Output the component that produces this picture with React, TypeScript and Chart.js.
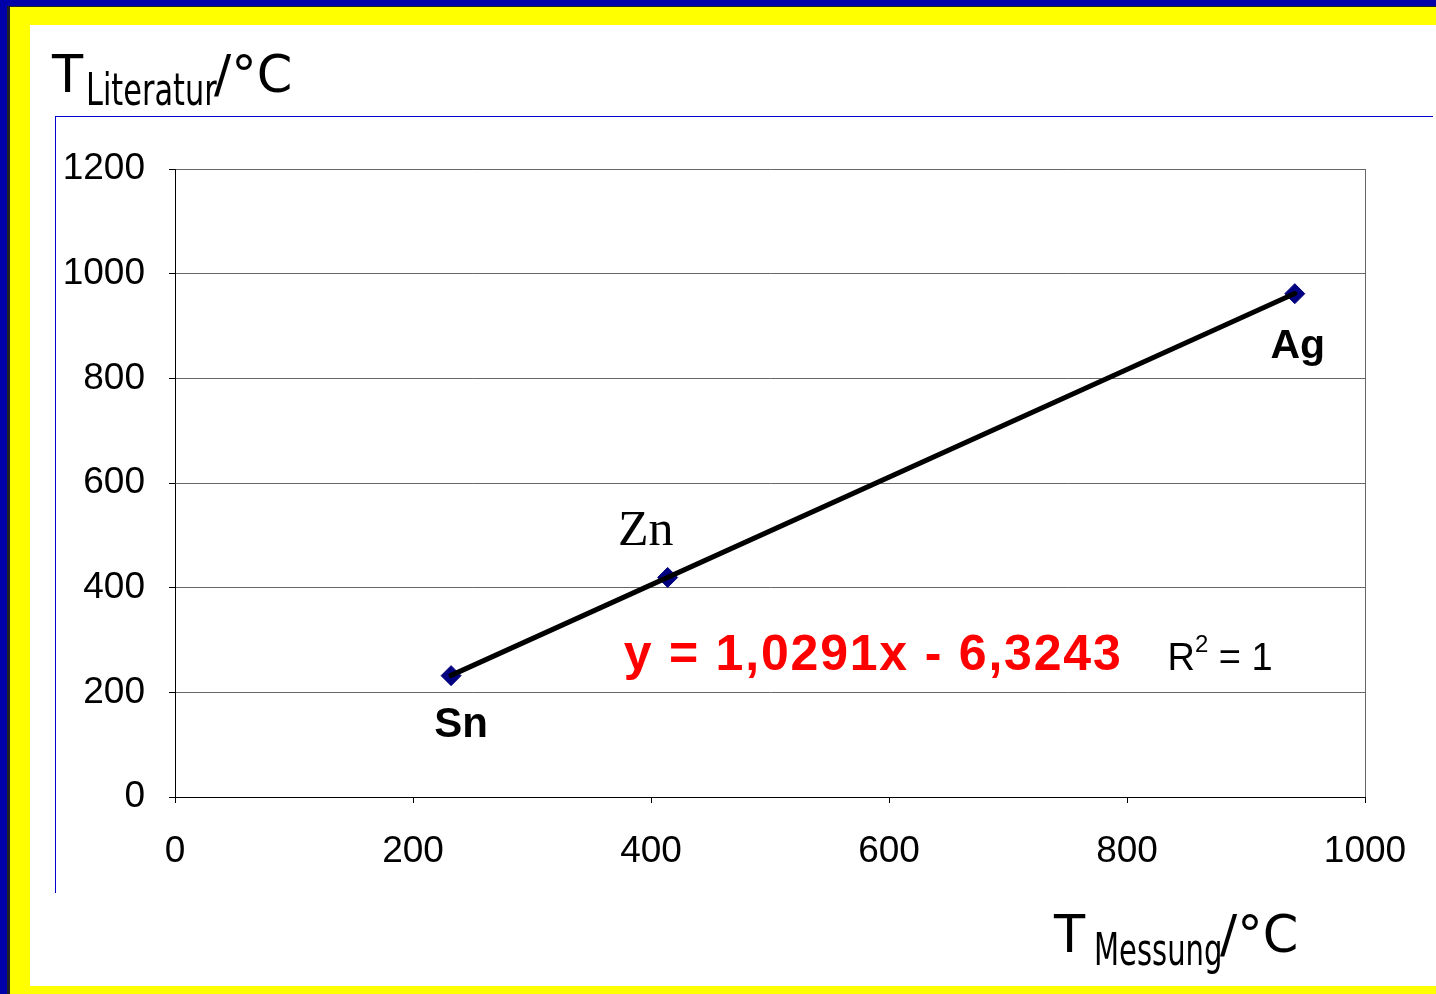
import React, { useEffect, useRef } from "react";
import { Chart, registerables } from "chart.js";

Chart.register(...registerables);

// ---- data ----
const elements = ["Sn", "Zn", "Ag"];
const tMeasured = [232, 414, 941];
const tLiterature = [231.9, 419.5, 961.8];
const slope = 1.0291;
const intercept = -6.3243;
const equationText = "y = 1,0291x - 6,3243";
const xTickValues = [0, 200, 400, 600, 800, 1000];
const yTickValues = [0, 200, 400, 600, 800, 1000, 1200];

const W = 1436;
const H = 994;

// label styles (offsets relative to each point, in px)
const pointLabelStyles = [
  { dx: 10, dy: 61, font: 'bold 42px "Liberation Sans", Arial, sans-serif' },
  { dx: -22, dy: -32, font: '50px "Liberation Serif", "Times New Roman", serif' },
  { dx: 3, dy: 64, font: 'bold 41px "Liberation Sans", Arial, sans-serif' },
];

const labelPlugin = {
  id: "pointLabels",
  afterDatasetsDraw(chart: any) {
    const { ctx, scales } = chart;
    const xs = scales.x;
    const ys = scales.y;
    ctx.save();
    // right border of the plot area
    const ca = chart.chartArea;
    ctx.strokeStyle = "#666";
    ctx.lineWidth = 1;
    ctx.beginPath();
    ctx.moveTo(Math.round(ca.right) + 0.5, Math.round(ca.top));
    ctx.lineTo(Math.round(ca.right) + 0.5, Math.round(ca.bottom));
    ctx.stroke();

    ctx.fillStyle = "#000";
    ctx.textBaseline = "alphabetic";
    ctx.textAlign = "center";
    elements.forEach((name, i) => {
      const st = pointLabelStyles[i];
      const px = xs.getPixelForValue(tMeasured[i]);
      const py = ys.getPixelForValue(tLiterature[i]);
      ctx.font = st.font;
      ctx.fillText(name, px + st.dx, py + st.dy);
    });

    // regression equation
    ctx.textAlign = "left";
    const ex = xs.getPixelForValue(377);
    const ey = ys.getPixelForValue(243);
    ctx.fillStyle = "#FF0000";
    ctx.font = 'bold 50px "Liberation Sans", Arial, sans-serif';
    (ctx as any).letterSpacing = "1.8px";
    ctx.fillText(equationText, ex, ey);
    (ctx as any).letterSpacing = "0px";

    // R^2 = 1
    const rx = xs.getPixelForValue(834);
    ctx.fillStyle = "#000";
    ctx.font = '38px "Liberation Sans", Arial, sans-serif';
    ctx.fillText("R", rx, ey);
    let cx = rx + ctx.measureText("R").width;
    ctx.font = '24px "Liberation Sans", Arial, sans-serif';
    ctx.fillText("2", cx, ey - 18);
    cx += ctx.measureText("2").width;
    ctx.font = '38px "Liberation Sans", Arial, sans-serif';
    ctx.fillText(" = 1", cx, ey);
    ctx.restore();
  },
};

export default function App() {
  const ref = useRef<HTMLCanvasElement | null>(null);

  useEffect(() => {
    if (!ref.current) return;
    const xMin = Math.min(...tMeasured);
    const xMax = Math.max(...tMeasured);
    const trend = [
      { x: xMin, y: slope * xMin + intercept },
      { x: xMax, y: slope * xMax + intercept },
    ];
    const chart = new Chart(ref.current, {
      type: "scatter",
      data: {
        datasets: [
          {
            label: "Trend",
            data: trend,
            showLine: true,
            borderColor: "#000",
            borderWidth: 5,
            borderCapStyle: "round",
            pointRadius: 0,
            order: 0,
          } as any,
          {
            label: "T",
            data: tMeasured.map((x, i) => ({ x, y: tLiterature[i] })),
            pointStyle: "rectRot",
            pointRadius: 10,
            pointBackgroundColor: "#000080",
            pointBorderColor: "#000080",
            pointBorderWidth: 1,
            showLine: false,
            order: 1,
          } as any,
        ],
      },
      options: {
        responsive: false,
        animation: false,
        devicePixelRatio: 1,
        layout: { padding: { top: 169, right: 71, left: 0, bottom: 97 } },
        plugins: { legend: { display: false }, tooltip: { enabled: false } },
        scales: {
          x: {
            type: "linear",
            position: "bottom",
            min: 0,
            max: 1000,
            afterBuildTicks: (s: any) => {
              s.ticks = xTickValues.map((v) => ({ value: v }));
            },
            afterFit: (s: any) => {
              s.height = 100;
            },
            grid: {
              drawOnChartArea: false,
              drawTicks: true,
              tickLength: 6,
              tickColor: "#000",
              color: "#000",
            },
            border: { display: true, color: "#000", width: 1 },
            ticks: {
              color: "#000",
              padding: 27,
              maxRotation: 0,
              callback: (v: any) => String(v),
              font: { family: '"Liberation Sans", Arial, sans-serif', size: 37 },
            },
          },
          y: {
            type: "linear",
            min: 0,
            max: 1200,
            afterBuildTicks: (s: any) => {
              s.ticks = yTickValues.map((v) => ({ value: v }));
            },
            afterFit: (s: any) => {
              s.width = 175;
            },
            grid: {
              drawTicks: true,
              tickLength: 6,
              tickColor: "#000",
              color: (c: any) => (c.tick && c.tick.value === 0 ? "#000" : "#666"),
              lineWidth: 1,
            },
            border: { display: true, color: "#000", width: 1 },
            ticks: {
              color: "#000",
              padding: 24,
              callback: (v: any) => String(v),
              font: { family: '"Liberation Sans", Arial, sans-serif', size: 37 },
            },
          },
        },
      },
      plugins: [labelPlugin],
    } as any);
    return () => chart.destroy();
  }, []);

  const titleFont = '"DejaVu Sans", Verdana, sans-serif';
  const part = (text: string, left: number, baseline: number, size: number, scaleX = 1) => (
    <div
      style={{
        position: "absolute",
        left,
        top: baseline - 0.846 * size,
        fontFamily: titleFont,
        fontSize: size,
        lineHeight: 1,
        whiteSpace: "nowrap",
        color: "#000",
        transform: scaleX !== 1 ? `scaleX(${scaleX})` : undefined,
        transformOrigin: "left top",
      }}
    >
      {text}
    </div>
  );

  return (
    <div style={{ position: "absolute", left: 0, top: 0, width: W, height: H, overflow: "hidden", background: "#0000A8" }}>
      <div style={{ position: "absolute", left: 7, top: 6, right: 0, bottom: 0, background: "#222" }} />
      <div style={{ position: "absolute", left: 10, top: 7, right: 0, bottom: 0, background: "#FFFF00" }} />
      <div style={{ position: "absolute", left: 30, top: 25, right: 0, bottom: 8, background: "#FFFFFF" }} />
      <div style={{ position: "absolute", left: 55, top: 116, width: 1378, height: 1, background: "#0000CC" }} />
      <div style={{ position: "absolute", left: 55, top: 116, width: 1, height: 777, background: "#0000CC" }} />
      <canvas ref={ref} width={W} height={H} style={{ position: "absolute", left: 0, top: 0, width: W, height: H }} />
      {part("T", 52, 92, 51)}
      {part("Literatur", 86, 105, 44, 0.69)}
      {part("/°C", 214, 92, 51)}
      {part("T", 1054, 952, 51)}
      {part("Messung", 1094, 965, 44, 0.66)}
      {part("/°C", 1220, 952, 51)}
    </div>
  );
}
